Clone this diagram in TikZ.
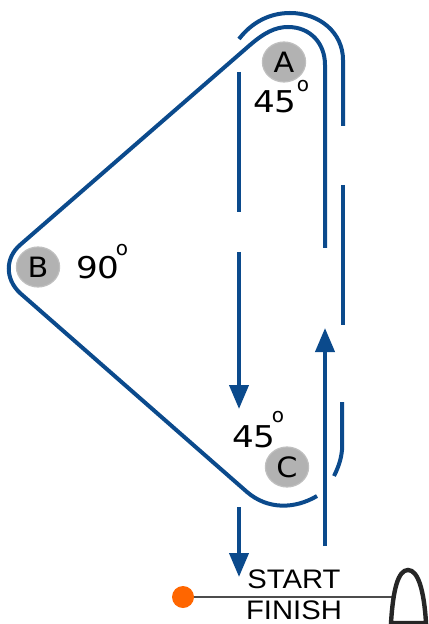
\documentclass[tikz,border=0pt]{standalone}
\usepackage{fontspec}
\setmainfont{DejaVu Sans}
\newfontfamily\linefont{Liberation Sans}
\usetikzlibrary{arrows.meta}
\definecolor{course}{HTML}{0B4A8C}
\definecolor{pincolor}{HTML}{FF6600}
\tikzset{
    leg/.style={draw=course, line width=2pt},
    legarrow/.style={leg, -{Triangle[length=12pt,width=9.5pt]}},
    mark point/.style={circle, xscale=1.08, fill=gray!60, draw=gray!50, line width=0.6pt, minimum size=20pt, inner sep=0pt, font=\fontsize{14}{14}\selectfont},
    angle label/.style={xscale=1.14, font=\fontsize{15}{15}\selectfont, inner sep=0pt},
    degree label/.style={font=\fontsize{10}{10}\selectfont, inner sep=0pt},
    line label/.style={xscale=1.09, font=\linefont\fontsize{13.4}{13.4}\selectfont, inner sep=0pt},
}
\begin{document}
\begin{tikzpicture}[x=0.5pt,y=-0.5pt]
    \useasboundingbox (0, 0) rectangle (428, 624);

    % Marks
    \node[mark point] (markA) at (284, 62) {A};
    \node[mark point] (markB) at (38, 267) {B};
    \node[mark point] (markC) at (287, 467) {C};

    % Angles
    \node[angle label] (angleA) at (275, 102) {45};
    \node[degree label] (degA) at (303, 86) {o};
    \node[angle label] (angleB) at (98, 268) {90};
    \node[degree label] (degB) at (122, 250) {o};
    \node[angle label] (angleC) at (254, 437) {45};
    \node[degree label] (degC) at (278, 417) {o};

    % Inner course
    \draw[leg] (317, 496) .. controls (295, 509) and (268, 510) .. (247, 492)
        -- (20, 293) .. controls (5, 279) and (5, 258) .. (20, 245)
        -- (250, 45) .. controls (264, 33) and (275, 27) .. (288, 27)
        .. controls (310, 27) and (325, 43) .. (325, 65) -- (325, 248);

    % Outer course
    \draw[leg] (239, 39) .. controls (252, 22) and (270, 13) .. (290, 13)
        .. controls (320, 13) and (343, 33) .. (343, 60) -- (343, 126);
    \draw[leg] (343, 185) -- (343, 325);
    \draw[leg] (342, 402) -- (342, 450) .. controls (341, 460) and (338, 468) .. (334, 476);

    % Arrows
    \coordinate (upfoot) at (325, 546);
    \coordinate (uptip) at (325, 328);
    \draw[legarrow] (upfoot) -- (uptip);

    \coordinate (downA) at (239, 72);
    \coordinate (downB) at (239, 212);
    \draw[leg] (downA) -- (downB);

    \coordinate (downC) at (239, 252);
    \coordinate (downD) at (239, 409);
    \draw[legarrow] (downC) -- (downD);

    \coordinate (downE) at (239, 507);
    \coordinate (downF) at (239, 577);
    \draw[legarrow] (downE) -- (downF);

    % Start line
    \node[circle, fill=pincolor, minimum size=11pt, inner sep=0pt] (pin) at (183, 597) {};
    \coordinate (boatside) at (394, 597);
    \draw[line width=1pt, black!70] (pin) -- (boatside);
    \draw[line width=2.2pt, black!85] (391, 623) .. controls (393, 590) and (398, 570) .. (408, 570)
        .. controls (418, 570) and (424, 590) .. (426, 623) -- cycle;
    \node[line label] (start) at (294, 579) {START};
    \node[line label] (finish) at (294, 610) {FINISH};

\end{tikzpicture}
\end{document}
